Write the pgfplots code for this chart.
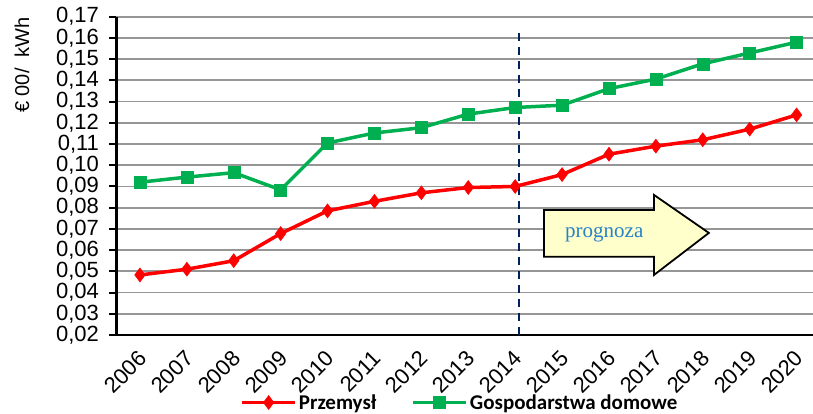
\documentclass[border=0pt]{standalone}
\usepackage{pgfplots}
\pgfplotsset{compat=1.18}
\usepackage{fontspec}
\setmainfont{Liberation Sans}
\newfontfamily\carlito{Carlito}
\newfontfamily\tserif{Liberation Serif}
\definecolor{cred}{RGB}{255,0,0}
\definecolor{cgreen}{RGB}{0,176,80}
\definecolor{cnavy}{RGB}{0,32,96}
\definecolor{cgrid}{RGB}{150,150,150}
\definecolor{cyellow}{RGB}{255,255,204}
\definecolor{cblue}{RGB}{40,130,200}
\begin{document}
\begin{tikzpicture}
\begin{axis}[
  at={(0pt,0pt)}, anchor=south west,
  scale only axis,
  width=696.5pt, height=318.3pt,
  xmin=-0.5, xmax=14.35,
  ymin=0.02, ymax=0.17,
  axis x line=bottom, axis y line=left,
  axis line style={-, black, line width=2.5pt},
  xtick={0,...,14},
  xticklabels={2006,2007,2008,2009,2010,2011,2012,2013,2014,2015,2016,2017,2018,2019,2020},
  xtick style={draw=none},
  minor xtick={0.5,1.5,...,13.5},
  minor x tick style={black, line width=2pt},
  minor tick length=6pt,
  ytick={0.02,0.03,...,0.171},
  ytick style={black, line width=2pt},
  major tick length=7pt,
  tick align=outside,
  ymajorgrids,
  grid style={cgrid, line width=1.8pt},
  tick label style={font=\fontsize{22}{26}\selectfont},
  xticklabel style={rotate=45, anchor=north east, xshift=-5pt, yshift=-1pt, inner sep=2pt},
  yticklabel style={xshift=-7pt, /pgf/number format/.cd, fixed, fixed zerofill, precision=2, use comma, assume math mode=true},
  ylabel={€ 00/\ \ kWh},
  ylabel style={at={(axis description cs:-0.1357,0.848)}, anchor=center, font=\fontsize{20}{24}\selectfont},
  legend columns=2,
  legend style={draw=none, fill=none, at={(axis description cs:0.493,-0.212)}, anchor=center,
    font=\carlito\bfseries\fontsize{21}{25}\selectfont,
    /tikz/every even column/.append style={column sep=33pt},
    inner sep=0pt},
  legend image code/.code={\draw[mark repeat=2,mark phase=2,#1] plot coordinates {(0pt,0pt) (26.5pt,0pt) (53pt,0pt)};},
]
\addplot[cred, line width=3.5pt, mark=diamond*, mark size=7pt, mark options={solid, line width=0.5pt}]
  coordinates {(0,0.0483) (1,0.051) (2,0.055) (3,0.0678) (4,0.0785) (5,0.083) (6,0.087) (7,0.0895) (8,0.090) (9,0.0956) (10,0.1052) (11,0.109) (12,0.112) (13,0.117) (14,0.1237)};
\addlegendentry{Przemysł}
\addplot[cgreen, line width=3.5pt, mark=square*, mark size=6pt, mark options={solid, line width=0.5pt}]
  coordinates {(0,0.092) (1,0.0944) (2,0.0965) (3,0.0884) (4,0.1105) (5,0.1152) (6,0.1177) (7,0.1241) (8,0.1272) (9,0.1283) (10,0.1361) (11,0.1406) (12,0.1478) (13,0.1529) (14,0.158)};
\addlegendentry{Gospodarstwa domowe}
\draw[cnavy, line width=2pt, dash pattern=on 8pt off 6pt] (axis cs:8.082,0.02) -- (axis cs:8.082,0.1637);
\draw[black, line width=1.8pt, fill=cyellow, line join=miter]
  (axis cs:8.615,0.0789) -- (axis cs:10.96,0.0789) -- (axis cs:10.96,0.0860) -- (axis cs:12.13,0.0681)
  -- (axis cs:10.96,0.0483) -- (axis cs:10.96,0.0569) -- (axis cs:8.615,0.0569) -- cycle;
\node[text=cblue, font=\tserif\fontsize{21}{25}\selectfont, anchor=center] at (axis cs:9.9,0.0672) {prognoza};
\end{axis}
\pgfresetboundingbox
\useasboundingbox (-116.5pt,-79pt) rectangle (696.5pt,335pt);
\end{tikzpicture}
\end{document}
